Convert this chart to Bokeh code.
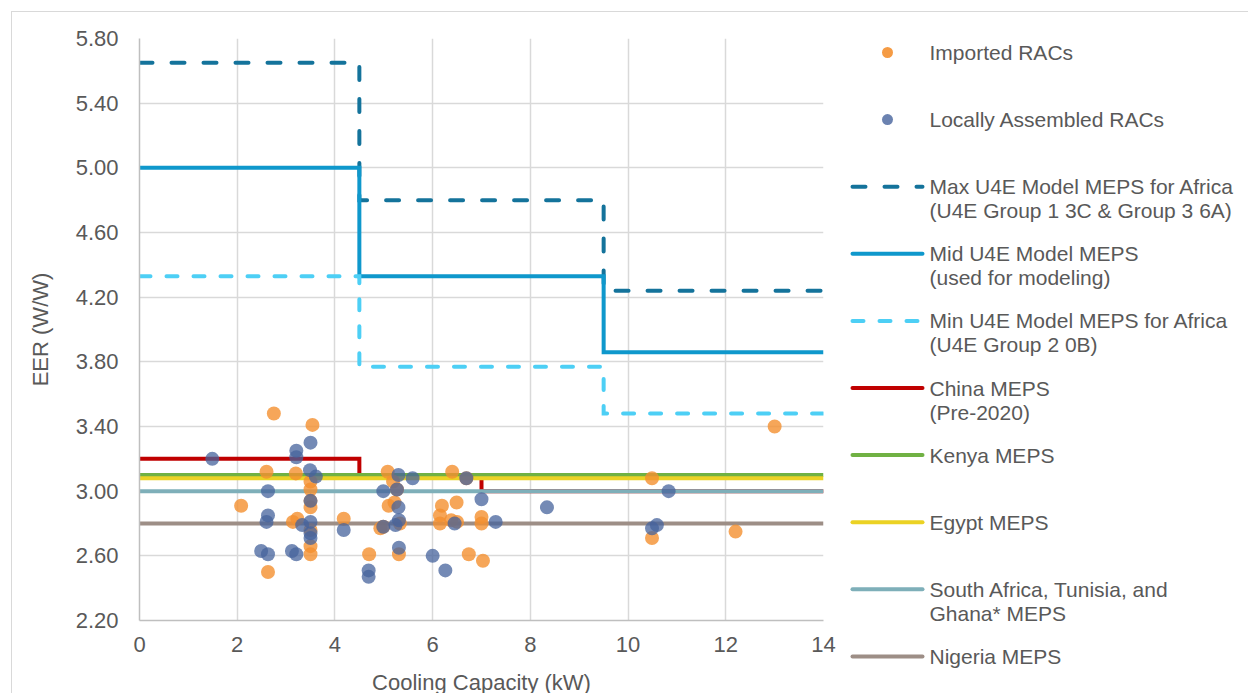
from jinja2 import Template
from bokeh.plotting import figure
from bokeh.models import Range1d, FixedTicker, PrintfTickFormatter
from bokeh.core.properties import value
from bokeh.embed import file_html
from bokeh.resources import INLINE

# Measured units: cooling capacity (kW) and EER (W/W)
cap_imported = [2.75, 3.54, 2.60, 3.20, 3.50, 3.50, 3.50, 3.50, 3.50, 3.50, 3.50,
                2.08, 3.14, 3.23, 2.63, 4.18, 4.70, 5.08, 5.19, 5.10, 5.22, 5.33,
                4.93, 5.31, 5.27, 4.99, 6.40, 6.69, 6.49, 6.19, 6.15, 6.15, 6.38,
                6.50, 7.00, 7.00, 6.74, 7.03, 10.49, 10.49, 12.20, 13.00]
eer_imported = [3.48, 3.41, 3.12, 3.11, 3.06, 3.01, 2.94, 2.90, 2.76, 2.66, 2.61,
                2.91, 2.81, 2.83, 2.50, 2.83, 2.61, 3.12, 3.06, 2.91, 2.93, 2.80,
                2.77, 2.61, 3.01, 2.78, 3.12, 3.08, 2.93, 2.91, 2.85, 2.80, 2.82,
                2.81, 2.84, 2.80, 2.61, 2.57, 3.08, 2.71, 2.75, 3.40]

cap_local = [1.49, 3.21, 3.21, 3.50, 3.49, 3.61, 2.63, 3.50, 2.63, 2.60, 3.33,
             3.50, 3.50, 3.50, 2.49, 2.63, 3.12, 3.21, 4.18, 4.69, 4.69, 4.99,
             5.30, 5.59, 5.27, 5.30, 5.31, 5.24, 4.99, 5.31, 6.00, 6.26, 6.69,
             7.00, 6.45, 7.29, 8.34, 10.83, 10.59, 10.49]
eer_local = [3.20, 3.25, 3.21, 3.30, 3.13, 3.09, 3.00, 2.94, 2.85, 2.81, 2.79,
             2.81, 2.74, 2.71, 2.63, 2.61, 2.63, 2.61, 2.76, 2.51, 2.47, 3.00,
             3.10, 3.08, 3.01, 2.90, 2.82, 2.79, 2.78, 2.65, 2.60, 2.51, 3.08,
             2.95, 2.80, 2.81, 2.90, 3.00, 2.79, 2.77]

# MEPS thresholds by capacity band
u4e_breaks = [0, 4.5, 9.5, 14]
max_levels = [5.65, 4.80, 4.24]
mid_levels = [5.00, 4.33, 3.86]
min_levels = [4.33, 3.77, 3.48]
china_breaks = [0, 4.5, 7.0, 14]
china_levels = [3.20, 3.10, 3.00]
flat_breaks = [0, 14]
kenya_levels = [3.10]
egypt_levels = [3.08]
sa_levels = [3.00]
nigeria_levels = [2.80]

x_ticks = [0, 2, 4, 6, 8, 10, 12, 14]
y_ticks = [2.20, 2.60, 3.00, 3.40, 3.80, 4.20, 4.60, 5.00, 5.40, 5.80]

series_labels = [
    ["Imported RACs"],
    ["Locally Assembled RACs"],
    ["Max U4E Model MEPS for Africa", "(U4E Group 1 3C & Group 3 6A)"],
    ["Mid U4E Model MEPS", "(used for modeling)"],
    ["Min U4E Model MEPS for Africa", "(U4E Group 2 0B)"],
    ["China MEPS", "(Pre-2020)"],
    ["Kenya MEPS"],
    ["Egypt MEPS"],
    ["South Africa, Tunisia, and", "Ghana* MEPS"],
    ["Nigeria MEPS"],
]

FONT = "Liberation Sans"
TEXT = "#595959"
ORANGE = "#F49030"
BLUE = "#46639C"

line_styles = [
    # (breaks, levels, colour, dash)
    (u4e_breaks, max_levels, "#14739B", "13 19"),
    (u4e_breaks, mid_levels, "#0F98CC", "solid"),
    (u4e_breaks, min_levels, "#4DCFF5", "11 16"),
    (china_breaks, china_levels, "#C00000", "solid"),
    (flat_breaks, kenya_levels, "#70B143", "solid"),
    (flat_breaks, egypt_levels, "#EBD224", "solid"),
    (flat_breaks, sa_levels, "#7EAFB9", "solid"),
    (flat_breaks, nigeria_levels, "#9D8E86", "solid"),
]


def step_xy(breaks, levels):
    xs, ys = [], []
    for i, lvl in enumerate(levels):
        xs += [breaks[i], breaks[i + 1]]
        ys += [lvl, lvl]
    return xs, ys


chart = figure(
    name="chart",
    frame_width=684, frame_height=582,
    min_border_left=127, min_border_top=26, min_border_right=20, min_border_bottom=72,
    x_range=Range1d(x_ticks[0], x_ticks[-1]), y_range=Range1d(y_ticks[0], y_ticks[-1]),
    output_backend="svg", toolbar_location=None,
    background_fill_color="white", border_fill_color="white",
)
chart.outline_line_color = None

chart.xaxis.ticker = FixedTicker(ticks=x_ticks)
chart.yaxis.ticker = FixedTicker(ticks=y_ticks)
chart.yaxis.formatter = PrintfTickFormatter(format="%.2f")
chart.xaxis.axis_label = "Cooling Capacity (kW)"
chart.yaxis.axis_label = "EER (W/W)"

for ax in (chart.xaxis, chart.yaxis):
    ax.axis_line_color = "#BFBFBF"
    ax.axis_line_width = 1.5
    ax.major_tick_line_color = None
    ax.minor_tick_line_color = None
    ax.major_tick_out = 0
    ax.major_tick_in = 0
    ax.major_label_text_font = FONT
    ax.major_label_text_font_size = "22px"
    ax.major_label_text_color = TEXT
    ax.axis_label_text_font = FONT
    ax.axis_label_text_font_size = "22px"
    ax.axis_label_text_font_style = "normal"
    ax.axis_label_text_color = TEXT

chart.yaxis.major_label_standoff = 21
chart.yaxis.axis_label_standoff = 20
chart.xaxis.major_label_standoff = 16
chart.xaxis.axis_label_standoff = 15

chart.grid.grid_line_color = "#D9D9D9"
chart.grid.grid_line_width = 1.5

for breaks, levels, color, dash in line_styles:
    xs, ys = step_xy(breaks, levels)
    chart.line(xs, ys, line_color=color, line_width=4, line_dash=dash,
               line_cap="round" if dash != "solid" else "butt", line_join="miter")

chart.scatter(cap_imported, eer_imported, size=14, marker="circle",
              fill_color=ORANGE, fill_alpha=0.8, line_color=None)
chart.scatter(cap_local, eer_local, size=14, marker="circle",
              fill_color=BLUE, fill_alpha=0.75, line_color=None)

# Key panel beside the chart, laid out in page pixels
key = figure(
    name="key",
    frame_width=405, frame_height=681,
    x_range=Range1d(843, 1248), y_range=Range1d(693, 12),
    output_backend="svg", toolbar_location=None,
    min_border=0, background_fill_color="white", border_fill_color="white",
)
key.axis.visible = False
key.grid.visible = False
key.outline_line_color = None

top_y = 52
pitch = 67.1
glyph_x0, glyph_x1, text_x = 852, 922, 929
ys = [top_y + i * pitch for i in range(len(series_labels))]

key.scatter([(glyph_x0 + glyph_x1) / 2], [ys[0]], size=11, marker="circle",
            fill_color=ORANGE, fill_alpha=0.9, line_color=None)
key.scatter([(glyph_x0 + glyph_x1) / 2], [ys[1]], size=11, marker="circle",
            fill_color=BLUE, fill_alpha=0.8, line_color=None)
for (breaks, levels, color, dash), y in zip(line_styles, ys[2:]):
    key.line([glyph_x0, glyph_x1], [y, y], line_color=color, line_width=4,
             line_dash=dash, line_cap="round")

first_lines = [lines[0] for lines in series_labels]
key.text([text_x] * len(ys), ys, text=first_lines, text_baseline="middle",
         text_align="left", text_font=value(FONT), text_font_size="21px",
         text_color=TEXT)
second_idx = [i for i, lines in enumerate(series_labels) if len(lines) > 1]
key.text([text_x] * len(second_idx), [ys[i] + 24 for i in second_idx],
         text=[series_labels[i][1] for i in second_idx], text_baseline="middle",
         text_align="left", text_font=value(FONT), text_font_size="21px",
         text_color=TEXT)

page = Template("""\
{% from macros import embed %}
<!DOCTYPE html>
<html lang="en">
<head>
<meta charset="utf-8">
<title>EER vs Cooling Capacity</title>
<style>
html, body { margin: 0; padding: 0; background: #ffffff; overflow: hidden; }
.sheet { position: absolute; left: 11px; top: 11px; width: 1237px; height: 682px;
         border-top: 1px solid #D9D9D9; border-left: 1px solid #D9D9D9;
         display: flex; flex-direction: row; align-items: flex-start; }
</style>
{{ bokeh_css }}
{{ bokeh_js }}
</head>
<body>
<div class="sheet">
{{ embed(roots.chart) }}
{{ embed(roots.key) }}
</div>
{{ plot_script }}
</body>
</html>
""")

open("out.html", "w").write(file_html([chart, key], INLINE, template=page))
